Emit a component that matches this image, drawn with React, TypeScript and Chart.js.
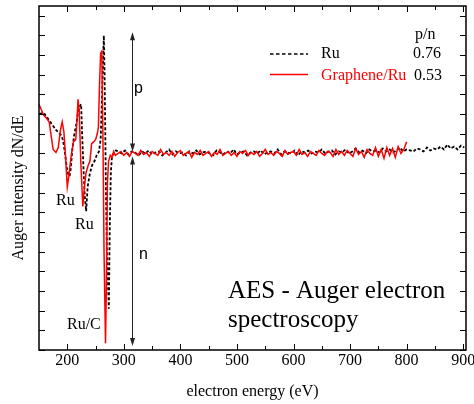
import React, { useEffect, useRef } from "react";
import { Chart, registerables } from "chart.js";

Chart.register(...registerables);

// ---- axis ticks ----
const xMajorTicks = [200, 300, 400, 500, 600, 700, 800, 900];
const xMinorTicks = [250, 350, 450, 550, 650, 750, 850];
const yTickValues = [0, 1, 2, 3, 4, 5, 6, 7, 8, 9, 10, 11, 12, 13, 14, 15, 16, 17];

// ---- Ru (black dotted) : peak region ----
const ruPeakE = [150, 155, 160, 165, 170, 175, 180, 185, 190, 193, 196, 199, 202, 204, 206, 209, 212, 216, 219, 222, 224.5, 226, 229, 231, 233.4, 236, 240, 244, 248, 252, 256, 259, 261, 263, 264.6, 266, 268, 270, 273.5, 275, 277, 279, 282, 286];
const ruPeakV = [12.0, 12.05, 12.0, 11.8, 11.6, 11.4, 11.2, 11.05, 10.9, 10.6, 10.0, 9.3, 8.9, 8.85, 9.2, 10.2, 10.9, 11.5, 12.1, 12.4, 12.5, 11.2, 9.0, 7.8, 7.06, 8.3, 9.0, 9.4, 9.6, 9.9, 10.1, 10.7, 12.5, 14.5, 16.0, 14.0, 9.0, 5.0, 2.1, 6.0, 9.0, 9.85, 10.0, 10.15];
// Ru baseline, sampled every 6 eV from 290 eV
const ruBaseStart = 290;
const ruBaseStep = 6;
const ruBaseV = [
  10.1, 10.0, 10.15, 9.95, 10.1, 10.05, 9.9, 10.1, 10.0, 10.15, 9.95, 10.05, 10.1, 9.9, 10.05, 10.2, 9.95, 10.1, 10.0, 10.05,
  9.9, 10.1, 10.0, 10.15, 9.95, 10.05, 10.1, 10.0, 9.9, 10.15, 10.05, 9.95, 10.1, 10.0, 10.2, 9.95, 10.05, 10.1, 9.9, 10.05,
  10.1, 10.0, 10.15, 9.95, 10.05, 10.1, 10.0, 10.2, 9.95, 10.1, 10.05, 10.0, 10.15, 9.9, 10.1, 10.05, 10.15, 10.0, 10.1, 10.05,
  10.2, 10.0, 10.1, 10.15, 9.95, 10.1, 10.05, 10.2, 10.0, 10.1, 10.25, 10.05, 10.15, 10.0, 10.2, 10.1, 10.15, 10.05, 10.25, 10.1,
  10.2, 10.05, 10.15, 10.3, 10.1, 10.2, 10.15, 10.1, 10.25, 10.2, 10.1, 10.3, 10.15, 10.25, 10.2, 10.35, 10.2, 10.45, 10.25, 10.35,
  10.2, 10.4, 10.3,
];

// ---- Graphene/Ru (red solid) : peak region ----
const grPeakE = [150, 153, 158, 163, 168, 172, 175, 180, 184, 188, 191, 194, 197, 200, 203, 207, 211, 215, 217, 219, 221, 224, 227.5, 230, 233, 237, 240, 243, 247, 250, 253, 255, 257, 259, 261, 263, 265, 267.6, 269.5, 271, 273, 276, 279, 282, 285];
const grPeakV = [12.5, 12.3, 11.95, 11.8, 11.6, 10.8, 10.2, 10.05, 10.3, 11.2, 11.6, 11.1, 9.8, 8.3, 8.9, 9.9, 10.6, 10.7, 11.6, 12.75, 12.2, 9.5, 7.3, 8.2, 9.0, 9.4, 9.6, 10.5, 10.6, 10.7, 11.0, 11.3, 13.5, 15.1, 15.2, 11.0, 5.0, 0.35, 4.0, 8.5, 9.6, 9.9, 9.8, 10.1, 9.9];
// Graphene/Ru baseline, sampled every 5 eV from 290 eV
const grBaseStart = 290;
const grBaseStep = 5;
const grBaseV = [
  10.0, 10.1, 9.9, 10.05, 9.85, 10.1, 10.0, 9.9, 10.15, 9.95, 10.05, 9.85, 10.1, 10.0, 9.9, 10.2, 9.95, 10.05, 9.9, 10.1,
  9.85, 10.05, 10.15, 9.9, 10.0, 10.1, 9.8, 10.05, 9.95, 10.15, 9.9, 10.0, 10.1, 9.85, 10.05, 9.95, 10.2, 9.9, 10.0, 10.1,
  9.9, 10.05, 9.85, 10.1, 10.0, 10.15, 9.9, 10.05, 9.95, 10.1, 9.85, 10.0, 10.2, 9.95, 10.05, 9.9, 10.1, 10.0, 9.85, 10.15,
  9.95, 10.05, 10.1, 9.9, 10.2, 9.95, 10.05, 9.85, 10.1, 10.0, 9.9, 10.15, 10.0, 9.9, 10.1, 10.05, 9.85, 10.2, 9.95, 10.1,
  9.9, 10.15, 10.0, 9.85, 10.25, 9.95, 10.1, 9.8, 10.2, 10.0, 9.9, 10.3, 9.85, 10.2, 9.75, 10.3, 9.9, 10.25, 9.8, 10.35,
  10.0, 10.2, 10.6,
];

// ---- legend / annotations ----
const seriesNames = ["Ru", "Graphene/Ru"];
const pnRatios = ["0.76", "0.53"];
const arrowEnergy = 314;
const arrowP = [16.17, 10.1];
const arrowN = [9.85, 0.2];

function buildPoints(pe: number[], pv: number[], start: number, step: number, bv: number[]) {
  const pts: { x: number; y: number }[] = pe.map((e, i) => ({ x: e, y: pv[i] }));
  bv.forEach((v, i) => pts.push({ x: start + i * step, y: v }));
  return pts;
}

const SERIF = '"Liberation Serif", "Times New Roman", serif';
const SANS = '"Liberation Sans", Arial, sans-serif';

const decorPlugin = {
  id: "decor",
  afterDatasetsDraw(chart: any) {
    const { ctx, chartArea } = chart;
    const { left, right, top, bottom } = chartArea;
    const xs = chart.scales.x;
    const ys = chart.scales.y;
    ctx.save();

    // frame
    ctx.strokeStyle = "#000";
    ctx.lineWidth = 1.5;
    ctx.strokeRect(left, top, right - left, bottom - top);

    // ticks (inward)
    ctx.lineWidth = 1;
    ctx.beginPath();
    xMajorTicks.forEach((v) => {
      const px = Math.round(xs.getPixelForValue(v)) + 0.5;
      ctx.moveTo(px, bottom); ctx.lineTo(px, bottom - 6);
      ctx.moveTo(px, top); ctx.lineTo(px, top + 6);
    });
    xMinorTicks.forEach((v) => {
      const px = Math.round(xs.getPixelForValue(v)) + 0.5;
      ctx.moveTo(px, bottom); ctx.lineTo(px, bottom - 4);
      ctx.moveTo(px, top); ctx.lineTo(px, top + 4);
    });
    yTickValues.forEach((v) => {
      const py = Math.round(ys.getPixelForValue(v)) + 0.5;
      ctx.moveTo(left, py); ctx.lineTo(left + 6, py);
      ctx.moveTo(right, py); ctx.lineTo(right - 6, py);
    });
    ctx.stroke();

    // x tick labels
    ctx.fillStyle = "#000";
    ctx.font = `16px ${SERIF}`;
    ctx.textAlign = "center";
    ctx.textBaseline = "alphabetic";
    xMajorTicks.forEach((v) => {
      ctx.fillText(String(v), xs.getPixelForValue(v), 365);
    });

    // axis titles
    ctx.fillText("electron energy (eV)", (left + right) / 2, 396);
    ctx.save();
    ctx.translate(23, 188);
    ctx.rotate(-Math.PI / 2);
    ctx.fillText("Auger intensity dN/dE", 0, 0);
    ctx.restore();

    // p / n arrows
    const ax = Math.round(xs.getPixelForValue(arrowEnergy)) + 0.5;
    const drawDoubleArrow = (v1: number, v2: number) => {
      const y1 = ys.getPixelForValue(v1);
      const y2 = ys.getPixelForValue(v2);
      ctx.strokeStyle = "#222";
      ctx.fillStyle = "#222";
      ctx.lineWidth = 1;
      ctx.beginPath();
      ctx.moveTo(ax, y1 + 5);
      ctx.lineTo(ax, y2 - 5);
      ctx.stroke();
      ctx.beginPath();
      ctx.moveTo(ax, y1); ctx.lineTo(ax - 2.5, y1 + 8); ctx.lineTo(ax + 2.5, y1 + 8); ctx.closePath();
      ctx.fill();
      ctx.beginPath();
      ctx.moveTo(ax, y2); ctx.lineTo(ax - 2.5, y2 - 8); ctx.lineTo(ax + 2.5, y2 - 8); ctx.closePath();
      ctx.fill();
    };
    drawDoubleArrow(arrowP[0], arrowP[1]);
    drawDoubleArrow(arrowN[0], arrowN[1]);

    ctx.fillStyle = "#000";
    ctx.textAlign = "left";
    ctx.font = `16px ${SANS}`;
    ctx.fillText("p", 134, 93);
    ctx.fillText("n", 139, 259);

    // peak labels
    ctx.font = `16px ${SERIF}`;
    ctx.fillText("Ru", 56, 205);
    ctx.fillText("Ru", 75, 229);
    ctx.fillText("Ru/C", 67, 329);

    // big text
    ctx.font = `25px ${SERIF}`;
    ctx.fillText("AES - Auger electron", 228, 298);
    ctx.fillText("spectroscopy", 228, 327);

    // legend
    ctx.font = `16px ${SERIF}`;
    ctx.fillText("p/n", 415, 39);
    ctx.strokeStyle = "#000";
    ctx.lineWidth = 1.6;
    ctx.setLineDash([3.5, 2.5]);
    ctx.beginPath();
    ctx.moveTo(270, 54); ctx.lineTo(308, 54);
    ctx.stroke();
    ctx.setLineDash([]);
    ctx.strokeStyle = "#ff0000";
    ctx.beginPath();
    ctx.moveTo(270, 74.5); ctx.lineTo(308, 74.5);
    ctx.stroke();
    ctx.fillStyle = "#000";
    ctx.fillText(seriesNames[0], 321, 58);
    ctx.fillText(pnRatios[0], 413, 58);
    ctx.fillStyle = "#ff0000";
    ctx.fillText(seriesNames[1], 321, 80);
    ctx.fillStyle = "#000";
    ctx.fillText(pnRatios[1], 414, 80);

    ctx.restore();
  },
};

export default function App() {
  const canvasRef = useRef<HTMLCanvasElement | null>(null);

  useEffect(() => {
    if (!canvasRef.current) return;
    const ruPts = buildPoints(ruPeakE, ruPeakV, ruBaseStart, ruBaseStep, ruBaseV);
    const grPts = buildPoints(grPeakE, grPeakV, grBaseStart, grBaseStep, grBaseV);
    const chart = new Chart(canvasRef.current, {
      type: "line",
      data: {
        datasets: [
          {
            label: seriesNames[1],
            data: grPts,
            borderColor: "#ff0000",
            borderWidth: 1.5,
            pointRadius: 0,
            tension: 0,
            fill: false,
          },
          {
            label: seriesNames[0],
            data: ruPts,
            borderColor: "#000000",
            borderWidth: 1.8,
            borderDash: [3, 2],
            pointRadius: 0,
            tension: 0,
            fill: false,
          },
        ],
      },
      options: {
        animation: false,
        responsive: false,
        devicePixelRatio: 1,
        layout: { padding: { top: 6, right: 8, left: 0, bottom: 0 } },
        plugins: { legend: { display: false }, tooltip: { enabled: false } },
        scales: {
          x: {
            type: "linear",
            min: 150,
            max: 905,
            grid: { display: false, drawTicks: false },
            border: { display: false },
            ticks: { display: false },
            afterFit: (s: any) => { s.height = 54; },
          },
          y: {
            type: "linear",
            min: 0,
            max: 17.5,
            grid: { display: false, drawTicks: false },
            border: { display: false },
            ticks: { display: false },
            afterFit: (s: any) => { s.width = 39; },
          },
        },
      },
      plugins: [decorPlugin],
    } as any);
    return () => chart.destroy();
  }, []);

  return (
    <div style={{ position: "absolute", left: 0, top: 0, width: 474, height: 404, background: "#fff" }}>
      <canvas ref={canvasRef} width={474} height={404} />
    </div>
  );
}
